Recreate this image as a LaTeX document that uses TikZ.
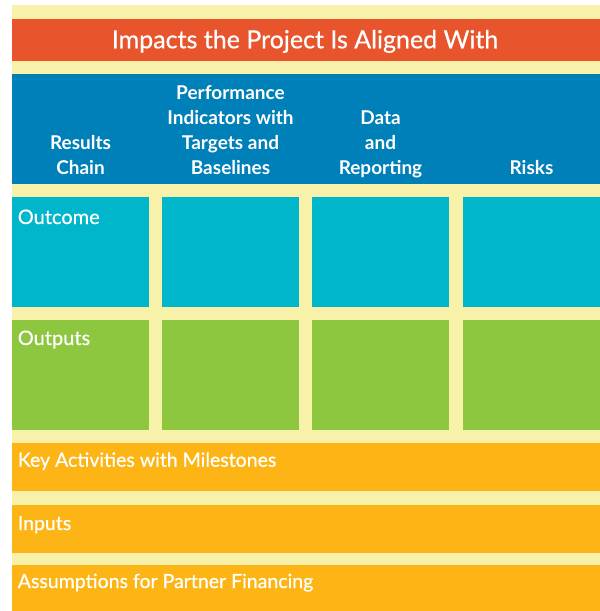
\documentclass[tikz,border=0pt]{standalone}
\usepackage{fontspec}
\setmainfont{Lato}
\newfontfamily\medfont[FakeBold=0.6]{Lato}
\definecolor{cream}{HTML}{F8F1A9}
\definecolor{titleorange}{HTML}{E8542B}
\definecolor{headblue}{HTML}{0080B8}
\definecolor{cellcyan}{HTML}{00B6CB}
\definecolor{cellgreen}{HTML}{8DC63F}
\definecolor{barorange}{HTML}{FDB515}
\begin{document}
\begin{tikzpicture}[x=1pt,y=-1pt,
  cell/.style={draw=none,inner sep=0pt,outer sep=0pt,anchor=north west},
  headtxt/.style={text=white,inner sep=0pt,anchor=base,align=center,font=\bfseries\fontsize{19}{24.8}\selectfont},
  celltxt/.style={text=white,inner sep=0pt,anchor=base west,font=\medfont\fontsize{20}{24}\selectfont},
  bartxt/.style={text=white,inner sep=0pt,anchor=base west,font=\medfont\fontsize{19.5}{24}\selectfont}]
\useasboundingbox (0,0) rectangle (600,611);
\fill[cream] (12,5) rectangle (600,611);
% title
\node[cell,fill=titleorange,minimum width=588pt,minimum height=42pt] (title) at (12,19) {};
\node[text=white,inner sep=0pt,anchor=base,font=\medfont\fontsize{25}{30}\selectfont] (titletxt) at (305,48.3) {Impacts the Project Is Aligned With};
% header
\node[cell,fill=headblue,minimum width=588pt,minimum height=110pt] (header) at (12,74) {};
\node[headtxt] (h1) at (80.5,174) {Results\\Chain};
\node[headtxt] (h2) at (230.5,174) {Performance\\Indicators with\\Targets and\\Baselines};
\node[headtxt] (h3) at (380.5,174) {Data\\and\\Reporting};
\node[headtxt] (h4) at (531.5,174) {Risks};
% outcome row
\node[cell,fill=cellcyan,minimum width=137pt,minimum height=110pt] (oc1) at (12,197) {};
\node[cell,fill=cellcyan,minimum width=137pt,minimum height=110pt] (oc2) at (162,197) {};
\node[cell,fill=cellcyan,minimum width=137pt,minimum height=110pt] (oc3) at (312,197) {};
\node[cell,fill=cellcyan,minimum width=137pt,minimum height=110pt] (oc4) at (463,197) {};
\node[celltxt] (octxt) at (17.6,224) {Outcome};
% outputs row
\node[cell,fill=cellgreen,minimum width=137pt,minimum height=110pt] (op1) at (12,320) {};
\node[cell,fill=cellgreen,minimum width=137pt,minimum height=110pt] (op2) at (162,320) {};
\node[cell,fill=cellgreen,minimum width=137pt,minimum height=110pt] (op3) at (312,320) {};
\node[cell,fill=cellgreen,minimum width=137pt,minimum height=110pt] (op4) at (463,320) {};
\node[celltxt] (optxt) at (17.6,345) {Outputs};
% bars
\node[cell,fill=barorange,minimum width=588pt,minimum height=48pt] (b1) at (12,443) {};
\node[bartxt] (b1txt) at (17.6,466.7) {Key Activities with Milestones};
\node[cell,fill=barorange,minimum width=588pt,minimum height=48pt] (b2) at (12,505) {};
\node[bartxt] (b2txt) at (17.6,530) {Inputs};
\node[cell,fill=barorange,minimum width=588pt,minimum height=46pt] (b3) at (12,565) {};
\node[bartxt] (b3txt) at (17.6,588) {Assumptions for Partner Financing};
\end{tikzpicture}
\end{document}
